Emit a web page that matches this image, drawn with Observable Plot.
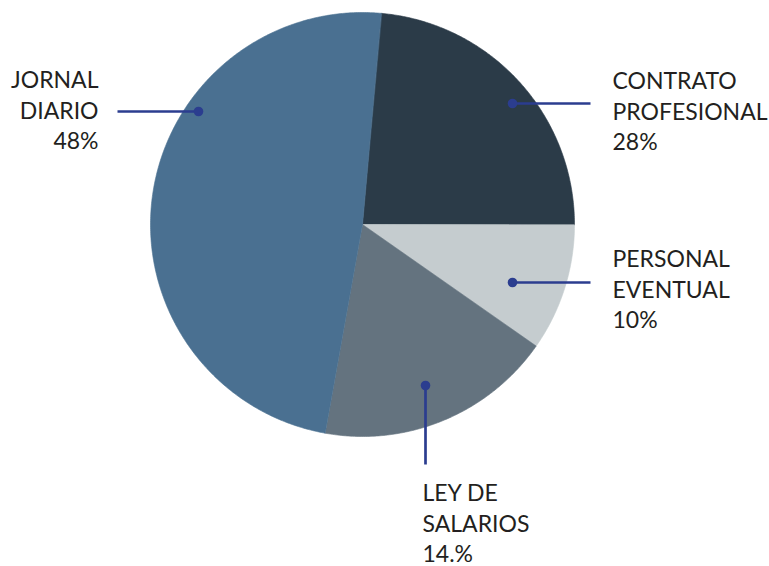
<!DOCTYPE html>
<html><head><meta charset="utf-8">
<script src="https://cdn.jsdelivr.net/npm/d3@7"></script>
<script src="https://cdn.jsdelivr.net/npm/@observablehq/plot@0.6"></script>
<style>body{margin:0;background:#fff;}</style>
</head><body><div id="chart"></div>
<script>
// ---- data ----
const categories = ["Contrato profesional", "Personal eventual", "Ley de salarios", "Jornal diario"];
const labelLines = [["CONTRATO", "PROFESIONAL"], ["PERSONAL", "EVENTUAL"], ["LEY DE", "SALARIOS"], ["JORNAL", "DIARIO"]];
const pctLabels = ["28%", "10%", "14.%", "48%"];
// slice shares as drawn in the picture (angles measured)
const shares = [23.6, 9.7, 18.1, 48.6];
const colors = ["#2b3b48", "#c5cccf", "#64737f", "#4a7091"];

// ---- layout ----
const W = 769, H = 566, CX = 362, CY = 224, R = 212;
const startDeg = 5.1;
const annot = [
  {dot: [150, -121], end: [228, -121], text: [250, -157], anchor: "start"},
  {dot: [150, 58],   end: [228, 58],   text: [250, 21],   anchor: "start"},
  {dot: [63, 161],   end: [63, 240],   text: [60, 255],   anchor: "start"},
  {dot: [-164, -113], end: [-245, -113], text: [-264, -158], anchor: "end"}
];
const accent = "#2b3d8f";
const textColor = "#231f20";

const a0 = startDeg * Math.PI / 180;
const arcs = d3.pie().sort(null).startAngle(a0).endAngle(a0 + 2 * Math.PI)(shares);

const sliceMarks = arcs.map((arc, i) => {
  const pts = [{x: 0, y: 0}];
  const n = Math.max(2, Math.ceil((arc.endAngle - arc.startAngle) / (Math.PI / 360)));
  for (let k = 0; k <= n; k++) {
    const a = arc.startAngle + (arc.endAngle - arc.startAngle) * k / n;
    pts.push({x: R * Math.sin(a), y: -R * Math.cos(a)});
  }
  return Plot.line(pts, {x: "x", y: "y", fill: colors[i], stroke: colors[i], strokeWidth: 0.6, curve: "linear-closed"});
});

const labels = categories.map((c, i) => ({
  name: c,
  text: [...labelLines[i], pctLabels[i]].join("\n"),
  dx0: annot[i].dot[0], dy0: annot[i].dot[1],
  dx1: annot[i].end[0], dy1: annot[i].end[1],
  tx: annot[i].text[0], ty: annot[i].text[1], anchor: annot[i].anchor
}));

const chart = Plot.plot({
  width: W, height: H,
  margin: 0,
  x: {domain: [-CX, W - CX], axis: null},
  y: {domain: [-CY, H - CY], reverse: true, axis: null},
  style: {fontFamily: "Lato, sans-serif", background: "#fff"},
  marks: [
    ...sliceMarks,
    Plot.link(labels, {x1: "dx0", y1: "dy0", x2: "dx1", y2: "dy1", stroke: accent, strokeWidth: 2.7}),
    Plot.dot(labels, {x: "dx0", y: "dy0", r: 4.8, fill: accent, stroke: "none"}),
    Plot.text(labels.filter(d => d.anchor === "start"), {x: "tx", y: "ty", text: "text", textAnchor: "start", lineAnchor: "top", lineHeight: 1.33, fontSize: 23, fill: textColor}),
    Plot.text(labels.filter(d => d.anchor === "end"), {x: "tx", y: "ty", text: "text", textAnchor: "end", lineAnchor: "top", lineHeight: 1.33, fontSize: 23, fill: textColor})
  ]
});
document.getElementById("chart").appendChild(chart);
</script>
</body></html>
